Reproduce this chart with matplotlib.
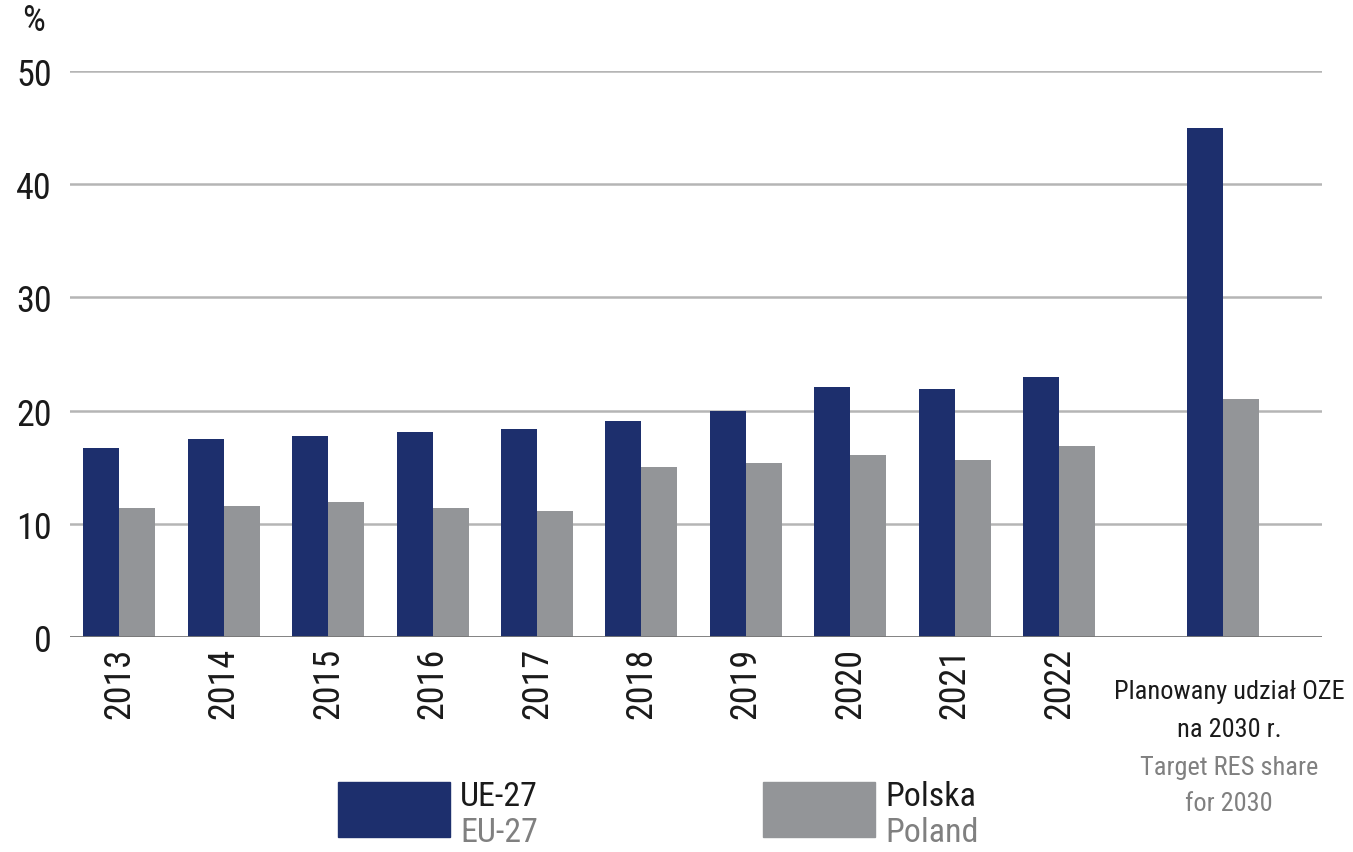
import matplotlib
matplotlib.use("Agg")
import matplotlib.pyplot as plt
from matplotlib.patches import Rectangle

plt.rcParams['font.family'] = ['Roboto Condensed', 'DejaVu Sans Condensed', 'DejaVu Sans']
plt.rcParams['font.stretch'] = 'condensed'

categories = ["2013", "2014", "2015", "2016", "2017", "2018", "2019", "2020", "2021", "2022"]
target_lines_pl = ["Planowany udział OZE", "na 2030 r."]
target_lines_en = ["Target RES share", "for 2030"]
eu_values = [16.7, 17.5, 17.8, 18.1, 18.4, 19.1, 20.0, 22.1, 21.9, 23.0]
pl_values = [11.4, 11.6, 11.9, 11.4, 11.1, 15.0, 15.4, 16.1, 15.6, 16.9]
eu_target = 45.0
pl_target = 21.0
yticks = [0, 10, 20, 30, 40, 50]
series_pl = ["UE-27", "Polska"]
series_en = ["EU-27", "Poland"]

NAVY = "#1d2f6d"
GRAY = "#939598"
GRID = "#b5b5b5"
DARK = "#1a1a1a"
LIGHT = "#808080"

W, H = 1353, 853
fig = plt.figure(figsize=(W/100, H/100), dpi=100)
ax = fig.add_axes([70/W, 1-638/H, (1322-70)/W, (638-72)/H])

w = 0.345
xs = list(range(len(categories)))
xt = 10.57
ax.bar([x - w/2 for x in xs], eu_values, width=w, color=NAVY, zorder=3)
ax.bar([x + w/2 for x in xs], pl_values, width=w, color=GRAY, zorder=3)
ax.bar([xt - w/2], [eu_target], width=w, color=NAVY, zorder=3)
ax.bar([xt + w/2], [pl_target], width=w, color=GRAY, zorder=3)

ax.set_xlim(-0.474, 11.52)
ax.set_ylim(0, 50)
ax.set_yticks(yticks)
ax.set_yticklabels([str(t) for t in yticks], fontsize=26, color=DARK)
for t in yticks[1:]:
    ax.axhline(t, color=GRID, lw=1.8, zorder=1)
ax.axhline(0, color="#777777", lw=2, zorder=4)

ax.set_xticks(xs)
ax.set_xticklabels(categories, rotation=90, fontsize=26, color=DARK, va="top")
ax.tick_params(axis="both", length=0)
ax.tick_params(axis="x", pad=7)
ax.tick_params(axis="y", pad=13)
for s in ax.spines.values():
    s.set_visible(False)

cx = 1229 / W
for txt, ypx, col in [(target_lines_pl[0], 692, DARK), (target_lines_pl[1], 730, DARK),
                      (target_lines_en[0], 768, LIGHT), (target_lines_en[1], 804, LIGHT)]:
    fig.text(cx, 1 - ypx/H, txt, ha="center", va="center", fontsize=19, color=col)

fig.text(34/W, 1-21/H, "%", fontsize=26, color=DARK, ha="center", va="center")

# legend
for px, c, lp, le in [(338, NAVY, series_pl[0], series_en[0]), (763, GRAY, series_pl[1], series_en[1])]:
    fig.add_artist(Rectangle((px/W, 1-838/H), 112/W, 55/H, color=c,
                             transform=fig.transFigure))
    fig.text((px+122)/W, 1-797/H, lp, fontsize=24.5, color=DARK, va="center", ha="left")
    fig.text((px+122)/W, 1-833/H, le, fontsize=24.5, color=LIGHT, va="center", ha="left")

fig.savefig("out.png", dpi=100)
